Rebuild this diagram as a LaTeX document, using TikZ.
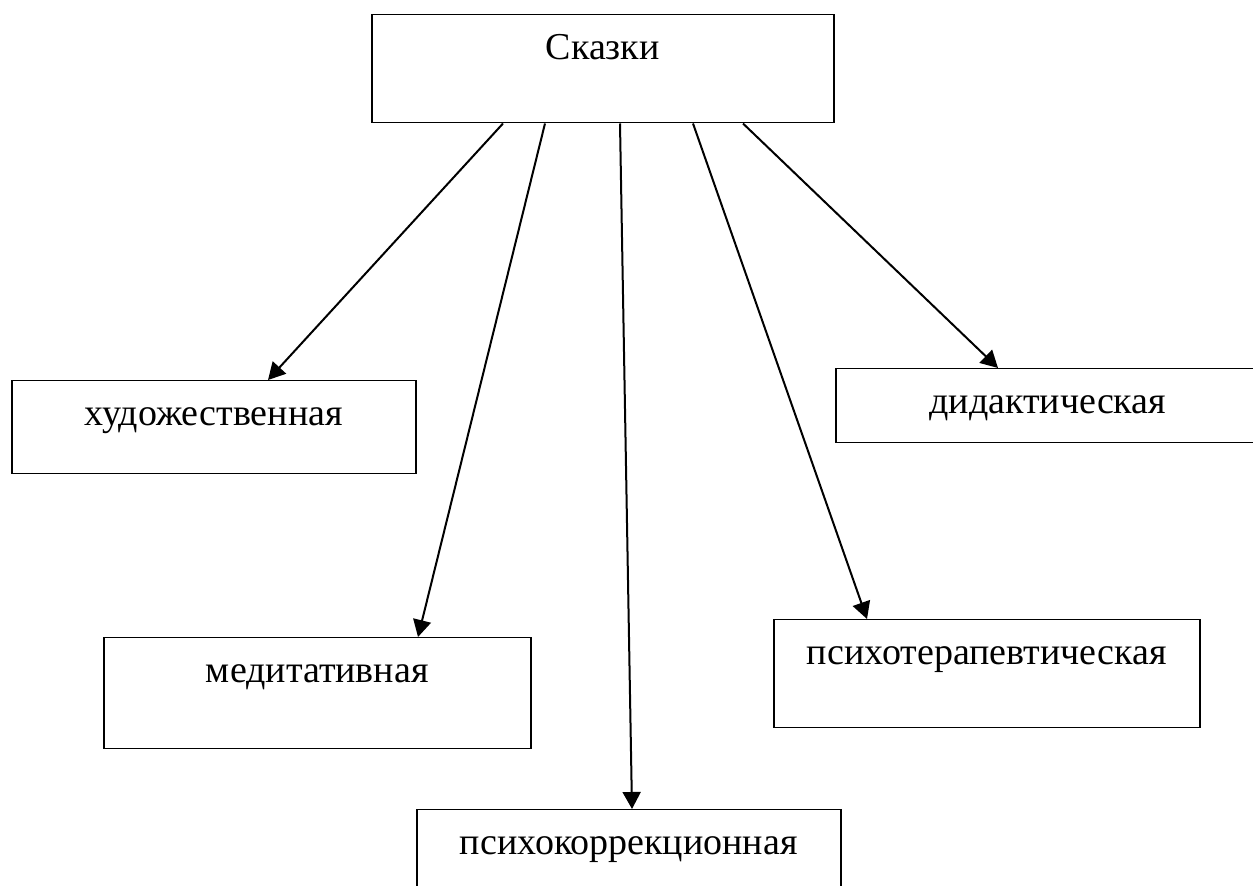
\documentclass[tikz,border=0pt]{standalone}
\usepackage{fontspec}
\setmainfont{Liberation Serif}
\usetikzlibrary{arrows.meta}

\begin{document}
\begin{tikzpicture}[
                    x=0.5pt, y=-0.5pt,
                    every node/.style={
                        rectangle,
                        draw,
                        line width=0.75pt,
                        inner sep=0pt,
                        text height=22.5pt,
                        anchor=north west,
                        font=\fontsize{19}{23}\selectfont
                    },
                    arr/.style={
                        line width=1pt,
                        -{Triangle[length=8.5pt,width=9pt]}
                    }
                ]
                    \useasboundingbox (0,0) rectangle (1253,886);

                    \node[minimum width=231pt, text depth=31.5pt] (skazki) at (371,14) {Сказки};
                    \node[minimum width=202pt, text depth=24pt] (hud) at (11,380) {художественная};
                    \node[minimum width=212pt, text depth=14.5pt] (did) at (835,368) {дидактическая};
                    \node[minimum width=213.5pt, text depth=33pt] (med) at (103,637) {медитативная};
                    \node[minimum width=213pt, text depth=31.5pt] (ter) at (773,619) {психотерапевтическая};
                    \node[minimum width=212pt, text depth=27.5pt] (korr) at (416,809) {психокоррекционная};

                    % Arrows
                    \draw[arr] ([xshift=66pt]skazki.south west) -- ([xshift=128.5pt]hud.north west);
                    \draw[arr] ([xshift=87pt]skazki.south west) -- ([xshift=157.5pt]med.north west);
                    \draw[arr] ([xshift=124.5pt]skazki.south west) -- ([xshift=108pt]korr.north west);
                    \draw[arr] ([xshift=161pt]skazki.south west) -- ([xshift=47pt]ter.north west);
                    \draw[arr] ([xshift=186pt]skazki.south west) -- ([xshift=81.5pt]did.north west);
                \end{tikzpicture}
\end{document}
